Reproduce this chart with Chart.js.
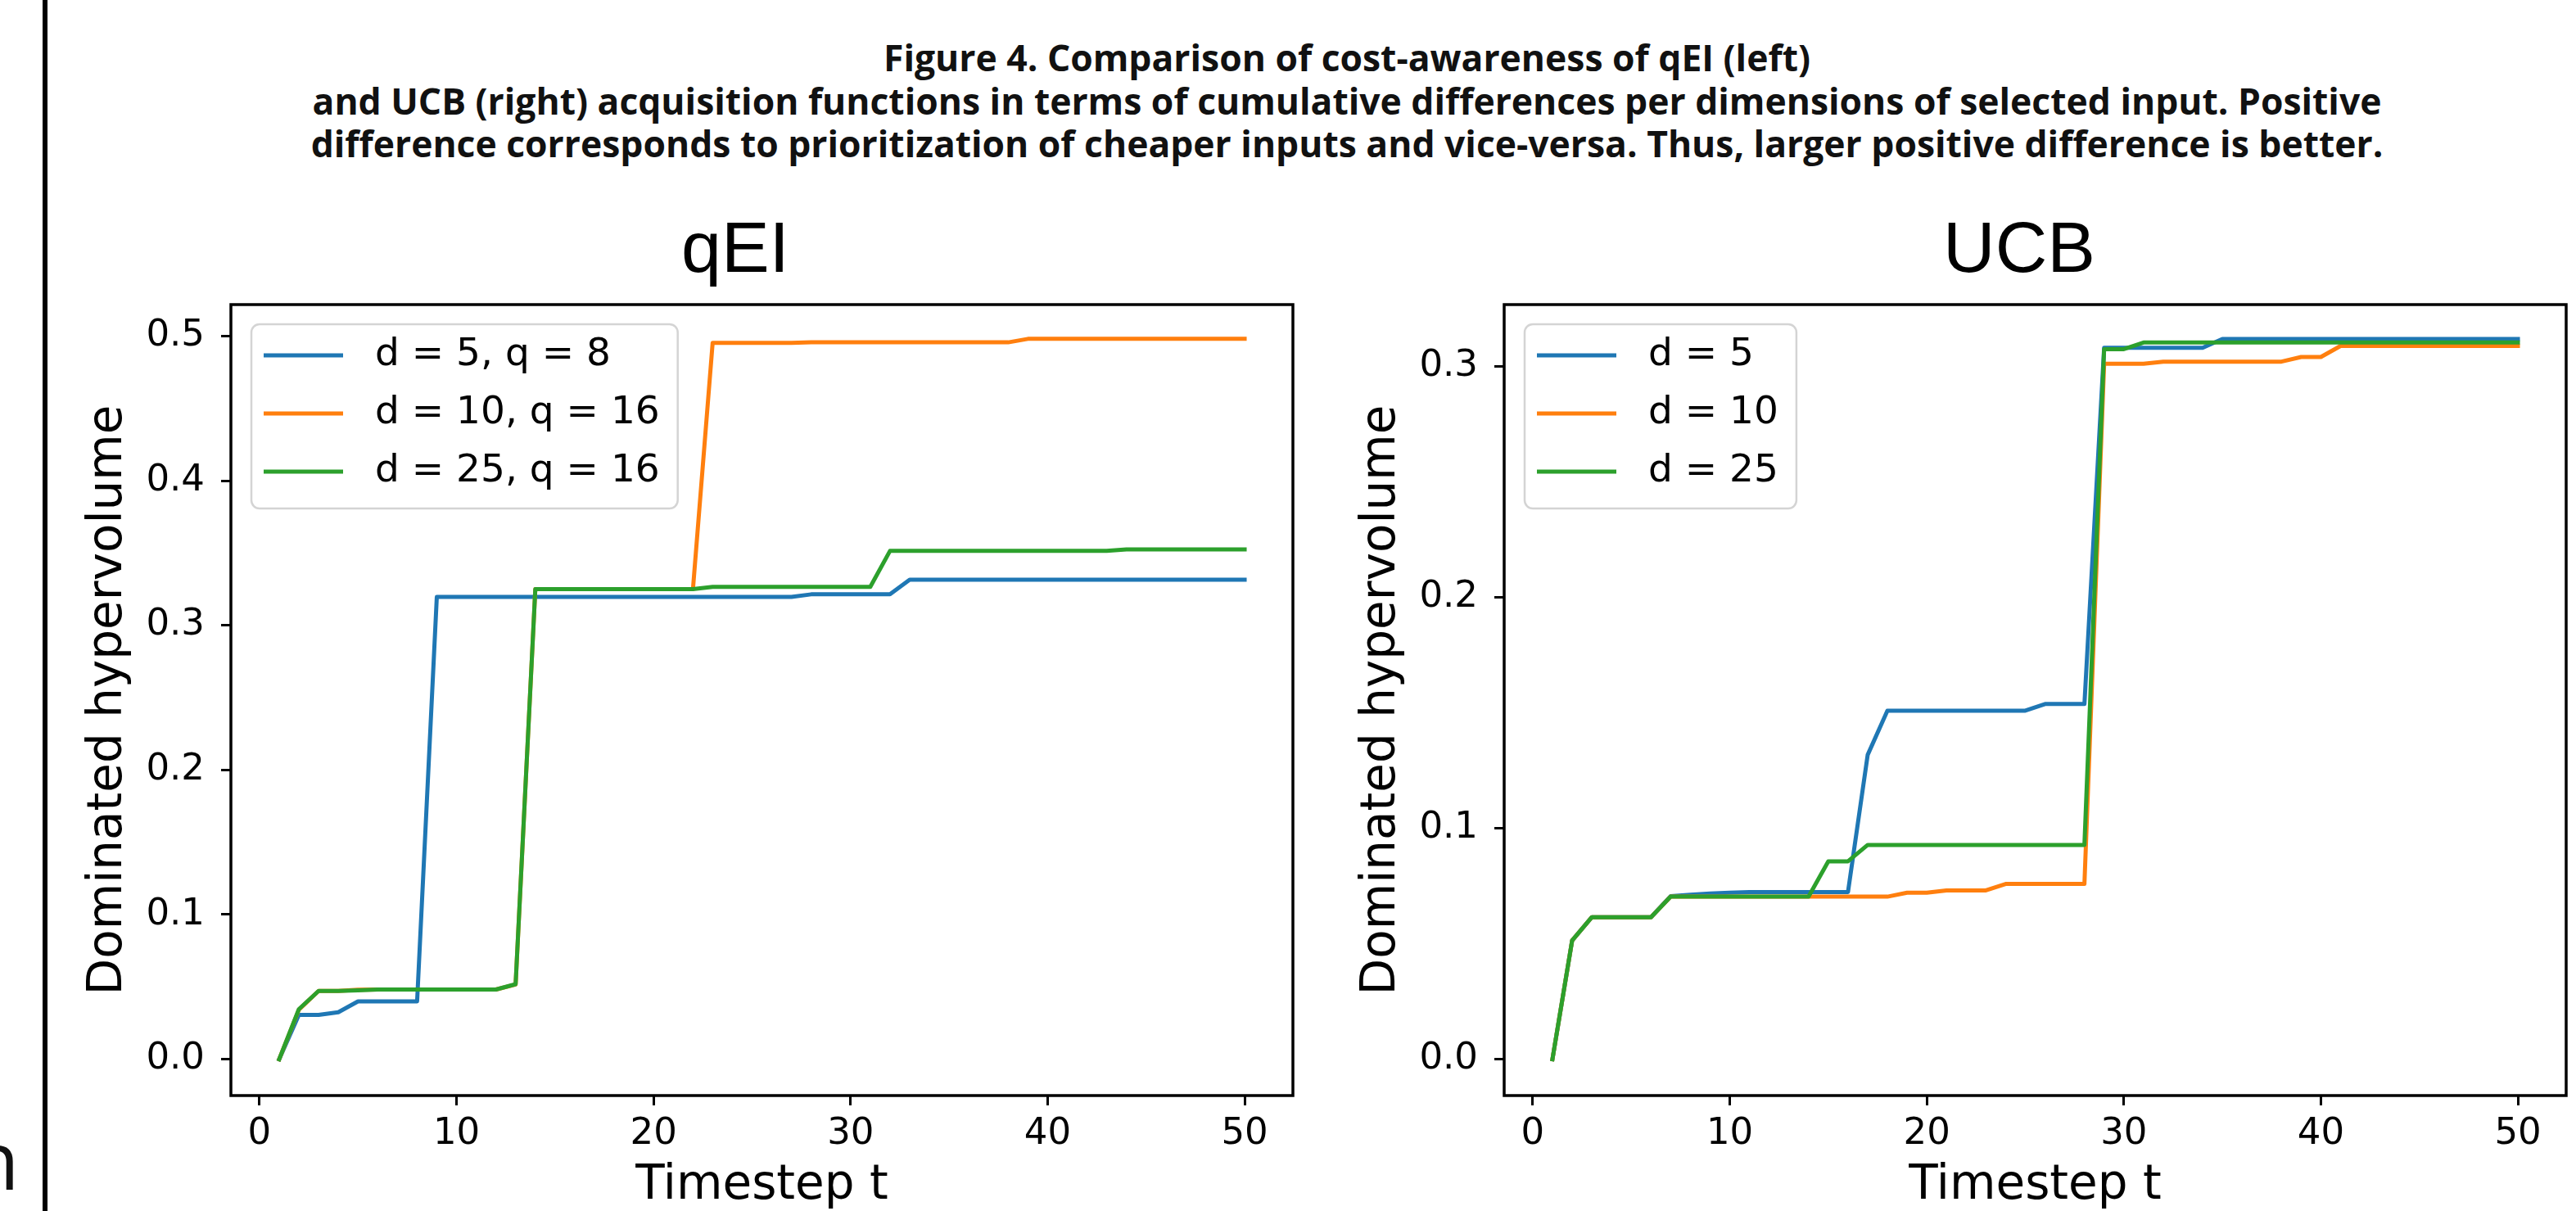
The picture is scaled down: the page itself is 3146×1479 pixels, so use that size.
<!DOCTYPE html>
<html>
<head>
<meta charset="utf-8">
<title>Figure 4 - qEI vs UCB</title>
<script src="https://cdn.jsdelivr.net/npm/chart.js@4.4.1/dist/chart.umd.min.js"></script>
<style>
    html, body { margin: 0; padding: 0; background: #fff; }
    body { width: 3146px; height: 1479px; position: relative; overflow: hidden; }
    #leftRule { position: absolute; left: 52px; top: 0; width: 6px; height: 1479px; background: #000; }
    #cutText { position: absolute; left: -37px; top: 1360px; font: 400 99px "Open Sans", sans-serif; line-height: 99px; color: #111; }
    .caption { position: absolute; left: 0; width: 3290px; text-align: center; white-space: nowrap;
               font-family: "Open Sans", "DejaVu Sans", sans-serif; font-weight: 700; color: #111; }
    .chart-box { position: absolute; top: 0; height: 1479px; }
    #box-qei { left: 0; width: 1600px; }
    #box-ucb { left: 1600px; width: 1546px; }
</style>
</head>
<body>
<div id="leftRule"></div>
<div id="cutText" data-baseline="1453">n</div>
<div class="caption" data-baseline="87">Figure 4. Comparison of cost-awareness of qEI (left)</div>
<div class="caption" data-baseline="140">and UCB (right) acquisition functions in terms of cumulative differences per dimensions of selected input. Positive</div>
<div class="caption" data-baseline="192">difference corresponds to prioritization of cheaper inputs and vice-versa. Thus, larger positive difference is better.</div>
<div class="chart-box" id="box-qei"><canvas id="qeiChart"></canvas></div>
<div class="chart-box" id="box-ucb"><canvas id="ucbChart"></canvas></div>
<script>
// datos
const timesteps = [
    1, 2, 3, 4, 5, 6, 7, 8, 9, 10,
    11, 12, 13, 14, 15, 16, 17, 18, 19, 20,
    21, 22, 23, 24, 25, 26, 27, 28, 29, 30,
    31, 32, 33, 34, 35, 36, 37, 38, 39, 40,
    41, 42, 43, 44, 45, 46, 47, 48, 49, 50
];
const xTickValues = [0, 10, 20, 30, 40, 50];
const qeiYTicks = [0, 0.1, 0.2, 0.3, 0.4, 0.5];
const ucbYTicks = [0, 0.1, 0.2, 0.3];
const qeiLabels = ['d = 5, q = 8', 'd = 10, q = 16', 'd = 25, q = 16'];
const ucbLabels = ['d = 5', 'd = 10', 'd = 25'];

// qEI panel
const qeiD5 = [
    0, 0.0306, 0.0306, 0.0325, 0.0400, 0.0400, 0.0400, 0.0400, 0.3196, 0.3196,
    0.3196, 0.3196, 0.3196, 0.3196, 0.3196, 0.3196, 0.3196, 0.3196, 0.3196, 0.3196,
    0.3196, 0.3196, 0.3196, 0.3196, 0.3196, 0.3196, 0.3196, 0.3214, 0.3214, 0.3214,
    0.3214, 0.3214, 0.3315, 0.3315, 0.3315, 0.3315, 0.3315, 0.3315, 0.3315, 0.3315,
    0.3315, 0.3315, 0.3315, 0.3315, 0.3315, 0.3315, 0.3315, 0.3315, 0.3315, 0.3315
];
const qeiD10 = [
    0, 0.0343, 0.0472, 0.0472, 0.0480, 0.0482, 0.0482, 0.0482, 0.0482, 0.0482,
    0.0482, 0.0482, 0.0517, 0.3250, 0.3250, 0.3250, 0.3250, 0.3250, 0.3250, 0.3250,
    0.3250, 0.3250, 0.4953, 0.4953, 0.4953, 0.4953, 0.4953, 0.4956, 0.4956, 0.4956,
    0.4956, 0.4956, 0.4956, 0.4956, 0.4956, 0.4956, 0.4956, 0.4956, 0.4980, 0.4980,
    0.4980, 0.4980, 0.4980, 0.4980, 0.4980, 0.4980, 0.4980, 0.4980, 0.4980, 0.4980
];
const qeiD25 = [
    0, 0.0346, 0.0472, 0.0472, 0.0476, 0.0482, 0.0482, 0.0482, 0.0482, 0.0482,
    0.0482, 0.0482, 0.0519, 0.3250, 0.3250, 0.3250, 0.3250, 0.3250, 0.3250, 0.3250,
    0.3250, 0.3250, 0.3266, 0.3266, 0.3266, 0.3266, 0.3266, 0.3266, 0.3266, 0.3266,
    0.3266, 0.3514, 0.3514, 0.3514, 0.3514, 0.3514, 0.3514, 0.3514, 0.3514, 0.3514,
    0.3514, 0.3514, 0.3514, 0.3524, 0.3524, 0.3524, 0.3524, 0.3524, 0.3524, 0.3524
];

// UCB panel
const ucbD5 = [
    0, 0.0514, 0.0615, 0.0615, 0.0615, 0.0615, 0.0706, 0.0712, 0.0718, 0.0721,
    0.0724, 0.0724, 0.0724, 0.0724, 0.0724, 0.0724, 0.1318, 0.1509, 0.1509, 0.1509,
    0.1509, 0.1509, 0.1509, 0.1509, 0.1509, 0.1538, 0.1538, 0.1538, 0.3080, 0.3080,
    0.3080, 0.3080, 0.3080, 0.3080, 0.3118, 0.3118, 0.3118, 0.3118, 0.3118, 0.3118,
    0.3118, 0.3118, 0.3118, 0.3118, 0.3118, 0.3118, 0.3118, 0.3118, 0.3118, 0.3118
];
const ucbD10 = [
    0, 0.0514, 0.0615, 0.0615, 0.0615, 0.0615, 0.0704, 0.0704, 0.0704, 0.0704,
    0.0704, 0.0704, 0.0704, 0.0704, 0.0704, 0.0704, 0.0704, 0.0704, 0.0721, 0.0721,
    0.0731, 0.0731, 0.0731, 0.0759, 0.0759, 0.0759, 0.0759, 0.0759, 0.3011, 0.3011,
    0.3011, 0.3020, 0.3020, 0.3020, 0.3020, 0.3020, 0.3020, 0.3020, 0.3040, 0.3040,
    0.3088, 0.3088, 0.3088, 0.3088, 0.3088, 0.3088, 0.3088, 0.3088, 0.3088, 0.3088
];
const ucbD25 = [
    0, 0.0514, 0.0615, 0.0615, 0.0615, 0.0615, 0.0704, 0.0704, 0.0704, 0.0704,
    0.0704, 0.0704, 0.0704, 0.0704, 0.0857, 0.0857, 0.0928, 0.0928, 0.0928, 0.0928,
    0.0928, 0.0928, 0.0928, 0.0928, 0.0928, 0.0928, 0.0928, 0.0928, 0.3074, 0.3074,
    0.3103, 0.3103, 0.3103, 0.3103, 0.3103, 0.3103, 0.3103, 0.3103, 0.3103, 0.3103,
    0.3103, 0.3103, 0.3103, 0.3103, 0.3103, 0.3103, 0.3103, 0.3103, 0.3103, 0.3103
];

const colors = ['#1f77b4', '#ff7f0e', '#2ca02c'];
const mplFont = '"DejaVu Sans", sans-serif';

// coloca un bloque de texto para que su linea base caiga en data-baseline
function placeOnBaseline(el) {
    el.style.top = '0px';
    const probe = document.createElement('span');
    probe.style.display = 'inline-block';
    probe.style.height = '0';
    el.appendChild(probe);
    const base = probe.getBoundingClientRect().top;
    el.removeChild(probe);
    el.style.top = (Number(el.dataset.baseline) - base) + 'px';
}

// caption: ajustar tamaño para que la segunda linea ocupe el mismo ancho
function layoutCaption() {
    const lines = document.querySelectorAll('.caption');
    const ctx = document.createElement('canvas').getContext('2d');
    ctx.font = '700 40px "Open Sans", "DejaVu Sans", sans-serif';
    const size = 40 * 2528 / ctx.measureText(lines[1].textContent).width;
    lines.forEach(line => {
        line.style.fontSize = size + 'px';
        line.style.lineHeight = size + 'px';
        placeOnBaseline(line);
    });
    placeOnBaseline(document.getElementById('cutText'));
}

// marco, leyenda y titulo al estilo matplotlib
const mplDecor = {
    id: 'mplDecor',
    afterDatasetsDraw(chart, args, opts) {
        const ctx = chart.ctx;
        const a = chart.chartArea;
        ctx.save();
        ctx.strokeStyle = '#000';
        ctx.lineWidth = 3.5;
        ctx.strokeRect(a.left, a.top, a.right - a.left, a.bottom - a.top);

        ctx.font = '47px ' + mplFont;
        const items = chart.data.datasets;
        let maxW = 0;
        items.forEach(ds => { maxW = Math.max(maxW, ctx.measureText(ds.label).width); });
        const bx = a.left + 25;
        const by = a.top + 24;
        ctx.beginPath();
        ctx.roundRect(bx, by, 151 + maxW + 22, 225, 10);
        ctx.fillStyle = 'rgba(255,255,255,0.8)';
        ctx.fill();
        ctx.strokeStyle = '#d4d4d4';
        ctx.lineWidth = 2.5;
        ctx.stroke();
        items.forEach((ds, i) => {
            const y = by + 38 + i * 71;
            ctx.strokeStyle = ds.borderColor;
            ctx.lineWidth = 5;
            ctx.beginPath();
            ctx.moveTo(bx + 15, y);
            ctx.lineTo(bx + 112, y);
            ctx.stroke();
            ctx.fillStyle = '#000';
            ctx.textAlign = 'left';
            ctx.textBaseline = 'middle';
            ctx.fillText(ds.label, bx + 151, y);
        });
        ctx.restore();
    },
    afterDraw(chart, args, opts) {
        const ctx = chart.ctx;
        ctx.save();
        ctx.font = '88px "Liberation Sans", Arial, sans-serif';
        ctx.textAlign = 'center';
        ctx.textBaseline = 'alphabetic';
        ctx.fillStyle = '#000';
        ctx.fillText(opts.title, opts.titleX, 332);
        ctx.restore();
    }
};

function buildDatasets(labels, series) {
    return series.map((vals, i) => ({
        label: labels[i],
        data: timesteps.map((t, k) => ({ x: t, y: vals[k] })),
        borderColor: colors[i],
        backgroundColor: colors[i],
        borderWidth: 5,
        pointRadius: 0,
        tension: 0,
        borderJoinStyle: 'round',
        borderCapStyle: 'square',
        order: series.length - 1 - i
    }));
}

function renderPanel(canvasId, cfg) {
    const tickFont = { family: mplFont, size: 45, lineHeight: 1.2 };
    const titleFont = { family: mplFont, size: 58, lineHeight: 1 };
    return new Chart(document.getElementById(canvasId).getContext('2d'), {
        type: 'line',
        data: { datasets: buildDatasets(cfg.labels, cfg.series) },
        plugins: [mplDecor],
        options: {
            animation: false,
            responsive: true,
            maintainAspectRatio: false,
            devicePixelRatio: 1,
            layout: { padding: { top: 372, right: cfg.padRight, left: 0, bottom: 0 } },
            plugins: {
                legend: { display: false },
                tooltip: { enabled: false },
                mplDecor: { title: cfg.title, titleX: cfg.titleX }
            },
            scales: {
                x: {
                    type: 'linear',
                    min: -1.45,
                    max: 52.45,
                    afterFit: s => { s.height = 141; },
                    afterBuildTicks: s => { s.ticks = xTickValues.map(v => ({ value: v })); },
                    ticks: { color: '#000', font: tickFont, padding: 8, maxRotation: 0, autoSkip: false,
                             callback: v => String(v) },
                    grid: { display: true, drawOnChartArea: false, drawTicks: true, tickLength: 12,
                            tickWidth: 3, tickColor: '#000', color: '#000' },
                    border: { display: false },
                    title: { display: true, text: 'Timestep t', color: '#000', font: titleFont,
                             padding: { top: 0, bottom: 1 } }
                },
                y: {
                    type: 'linear',
                    min: cfg.yMin,
                    max: cfg.yMax,
                    afterFit: s => { s.width = cfg.yWidth; },
                    afterBuildTicks: s => { s.ticks = cfg.yTicks.map(v => ({ value: v })); },
                    ticks: { color: '#000', font: tickFont, padding: 20, autoSkip: false,
                             callback: v => v.toFixed(1) },
                    grid: { display: true, drawOnChartArea: false, drawTicks: true, tickLength: 12,
                            tickWidth: 3, tickColor: '#000', color: '#000' },
                    border: { display: false },
                    title: { display: true, text: 'Dominated hypervolume', color: '#000', font: titleFont,
                             padding: { top: cfg.yTitlePad, bottom: 0 } }
                }
            }
        }
    });
}

layoutCaption();

renderPanel('qeiChart', {
    labels: qeiLabels,
    series: [qeiD5, qeiD10, qeiD25],
    yTicks: qeiYTicks,
    yMin: -0.0251,
    yMax: 0.5217,
    yWidth: 282,
    padRight: 21,
    yTitlePad: 104,
    title: 'qEI',
    titleX: 898
});

renderPanel('ucbChart', {
    labels: ucbLabels,
    series: [ucbD5, ucbD10, ucbD25],
    yTicks: ucbYTicks,
    yMin: -0.0157,
    yMax: 0.3267,
    yWidth: 237,
    padRight: 12,
    yTitlePad: 59,
    title: 'UCB',
    titleX: 866
});
</script>
</body>
</html>
